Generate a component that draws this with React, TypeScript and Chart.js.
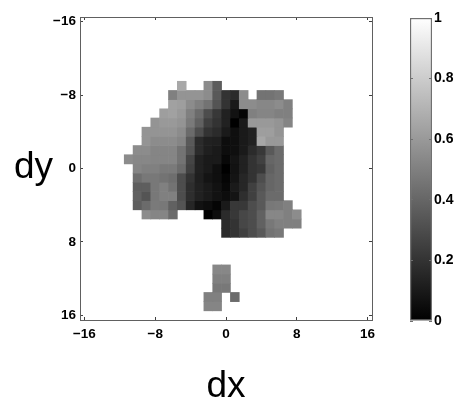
import React, { useEffect, useRef } from "react";
import { Chart, registerables } from "chart.js";

Chart.register(...registerables);

const dxLabels = ["-16","-15","-14","-13","-12","-11","-10","-9","-8","-7","-6","-5","-4","-3","-2","-1","0","1","2","3","4","5","6","7","8","9","10","11","12","13","14","15","16"];
const axisTicks = [-16, -8, 0, 8, 16];
const barTicks = [0, 0.2, 0.4, 0.6, 0.8, 1];

// One row of cells per dy level: dy, the dx of the first cell, and the cell values
const dyLevels = [-9, -8, -7, -6, -5, -4, -3, -2, -1, 0, 1, 2, 3, 4, 5, 6, 7, 11, 12, 13, 14, 15];
const firstDx = [-5, -6, -6, -7, -8, -9, -9, -10, -11, -10, -10, -10, -10, -10, -9, 0, 0, -1, -1, -1, -2, -2];
const cellRows: (number | null)[][] = [
  [0.66, null, null, 0.55, 0.36],
  [0.5, 0.58, 0.58, 0.58, 0.55, 0.35, 0.2, 0.17, 0.55, null, 0.45, 0.45, 0.47],
  [0.63, 0.62, 0.55, 0.5, 0.45, 0.33, 0.2, 0.1, 0.55, 0.55, 0.53, 0.53, 0.55, 0.5],
  [0.62, 0.63, 0.6, 0.5, 0.42, 0.3, 0.22, 0.13, 0.07, 0.02, 0.5, 0.52, 0.52, 0.5, 0.5],
  [0.58, 0.6, 0.6, 0.58, 0.48, 0.38, 0.25, 0.2, 0.13, 0.0, 0.1, 0.6, 0.6, 0.6, 0.58, 0.52],
  [0.58, 0.58, 0.58, 0.58, 0.55, 0.42, 0.3, 0.2, 0.17, 0.1, 0.06, 0.1, 0.13, 0.62, 0.62, 0.58],
  [0.58, 0.55, 0.55, 0.55, 0.52, 0.35, 0.17, 0.13, 0.12, 0.05, 0.06, 0.1, 0.13, 0.65, 0.6, 0.6],
  [0.55, 0.55, 0.52, 0.52, 0.52, 0.45, 0.33, 0.17, 0.12, 0.1, 0.05, 0.06, 0.1, 0.17, 0.22, 0.35, 0.42],
  [0.55, 0.53, 0.53, 0.52, 0.52, 0.52, 0.45, 0.27, 0.13, 0.1, 0.1, 0.03, 0.08, 0.13, 0.2, 0.25, 0.4, 0.42],
  [0.52, 0.5, 0.5, 0.48, 0.48, 0.42, 0.25, 0.13, 0.1, 0.06, 0.0, 0.07, 0.13, 0.2, 0.22, 0.38, 0.42],
  [0.43, 0.47, 0.47, 0.45, 0.43, 0.3, 0.2, 0.12, 0.08, 0.06, 0.02, 0.08, 0.15, 0.2, 0.3, 0.4, 0.42],
  [0.37, 0.37, 0.47, 0.5, 0.45, 0.3, 0.18, 0.13, 0.1, 0.07, 0.03, 0.1, 0.15, 0.25, 0.33, 0.4, 0.42],
  [0.38, 0.33, 0.47, 0.5, 0.5, 0.3, 0.18, 0.13, 0.1, 0.07, 0.05, 0.08, 0.18, 0.25, 0.35, 0.42, 0.42],
  [0.37, 0.42, 0.48, 0.47, 0.38, 0.33, 0.15, 0.07, 0.05, 0.02, 0.1, 0.22, 0.22, 0.3, 0.35, 0.47, 0.48, 0.5],
  [0.55, 0.52, 0.52, 0.42, null, null, null, 0.0, 0.05, 0.17, 0.22, 0.28, 0.3, 0.38, 0.53, 0.53, 0.5, 0.55],
  [0.17, 0.2, 0.28, 0.3, 0.38, 0.47, 0.5, 0.5, 0.5],
  [0.17, 0.2, 0.25, 0.3, 0.35, 0.45, 0.47],
  [0.53, 0.53],
  [0.5, 0.5],
  [0.47, 0.47],
  [0.5, 0.5, null, 0.42],
  [0.52, 0.52],
];

const gray = (v: number) => {
  const g = Math.round(v * 255);
  return `rgb(${g},${g},${g})`;
};
const tickText = (v: number | string) => String(v).replace("-", "\u2212");
const FONT = "'Liberation Sans', Arial, sans-serif";
const AXIS = "#606060";

function cellDatasets() {
  return dyLevels.map((dy, r) => {
    const data: ([number, number] | null)[] = dxLabels.map(() => null);
    const colors: string[] = dxLabels.map(() => "rgba(0,0,0,0)");
    cellRows[r].forEach((v, i) => {
      if (v === null) return;
      const idx = dxLabels.indexOf(String(firstDx[r] + i));
      data[idx] = [dy - 0.5, dy + 0.5];
      colors[idx] = gray(v);
    });
    return {
      label: `dy ${dy}`,
      data,
      backgroundColor: colors,
      borderWidth: 0,
      barPercentage: 1,
      categoryPercentage: 1,
      grouped: false,
      xAxisID: "x",
      yAxisID: "y",
    };
  });
}

const tickFont = { family: FONT, size: 13.5, weight: "bold" as const };

export default function App() {
  const mainRef = useRef<HTMLCanvasElement>(null);
  const barRef = useRef<HTMLCanvasElement>(null);

  useEffect(() => {
    const keepX = (s: any) => {
      s.ticks = s.ticks.filter((t: any) => axisTicks.includes(Number(dxLabels[t.value])));
    };
    const setY = (s: any) => {
      s.ticks = axisTicks.map((value) => ({ value }));
    };
    const grid = { drawOnChartArea: false, tickLength: -3, color: "#404040", offset: false };
    const border = { color: AXIS, width: 1 };

    const dyTitle = {
      id: "dyTitle",
      afterDraw(chart: any) {
        const { ctx } = chart;
        ctx.save();
        ctx.font = `37px ${FONT}`;
        ctx.fillStyle = "#000";
        ctx.textAlign = "left";
        ctx.textBaseline = "alphabetic";
        ctx.fillText("dy", 14, 178);
        ctx.restore();
      },
    };

    const main = new Chart(mainRef.current!, {
      type: "bar",
      data: { labels: dxLabels, datasets: cellDatasets() as any },
      plugins: [dyTitle],
      options: {
        animation: false,
        responsive: false,
        layout: { padding: { left: 0, top: 17, right: 84, bottom: 0 } },
        plugins: { legend: { display: false }, tooltip: { enabled: false } },
        scales: {
          x: {
            type: "category",
            position: "bottom",
            offset: true,
            grid,
            border,
            afterBuildTicks: keepX,
            afterFit: (s: any) => { s.height = 85; },
            ticks: {
              autoSkip: false,
              maxRotation: 0,
              padding: 9,
              color: "#000",
              font: tickFont,
              callback(this: any, v: any) { return tickText(this.getLabelForValue(v)); },
            },
            title: {
              display: true,
              text: "dx",
              color: "#000",
              font: { family: FONT, size: 37 },
              padding: { top: 0, bottom: -4 },
            },
          },
          x2: {
            type: "category",
            position: "top",
            offset: true,
            grid,
            border,
            afterBuildTicks: keepX,
            afterFit: (s: any) => { s.height = 0; },
            ticks: { display: false, autoSkip: false },
          },
          y: {
            type: "linear",
            position: "left",
            reverse: true,
            min: -16.5,
            max: 16.5,
            grid,
            border,
            afterBuildTicks: setY,
            afterFit: (s: any) => { s.width = 80; },
            ticks: { padding: 7, color: "#000", font: tickFont, callback: (v: any) => tickText(v) },
          },
          y2: {
            type: "linear",
            position: "right",
            reverse: true,
            min: -16.5,
            max: 16.5,
            grid,
            border,
            afterBuildTicks: setY,
            afterFit: (s: any) => { s.width = 0; },
            ticks: { display: false },
          },
        },
      } as any,
    });

    const barCtx = barRef.current!.getContext("2d")!;
    const ramp = barCtx.createLinearGradient(0, 321, 0, 18);
    ramp.addColorStop(0, "#000");
    ramp.addColorStop(1, "#fff");

    const setBarTicks = (s: any) => {
      s.ticks = barTicks.map((value) => ({ value }));
    };
    const barGrid = { drawOnChartArea: false, tickLength: -3, color: "#707070", z: 1 };

    const bar = new Chart(barRef.current!, {
      type: "bar",
      data: {
        labels: ["scale"],
        datasets: [{
          data: [[0, 1]],
          backgroundColor: ramp,
          borderColor: "#707070",
          borderWidth: 1.5,
          borderSkipped: false,
          barPercentage: 1,
          categoryPercentage: 1,
        }] as any,
      },
      options: {
        animation: false,
        responsive: false,
        layout: { padding: { left: 410, top: 18, right: 0, bottom: 84 } },
        plugins: { legend: { display: false }, tooltip: { enabled: false } },
        scales: {
          x: { display: false, offset: true },
          y: {
            position: "right",
            min: 0,
            max: 1,
            grid: barGrid,
            border: { display: false },
            afterBuildTicks: setBarTicks,
            afterFit: (s: any) => { s.width = 24; },
            ticks: { padding: 5, color: "#000", font: { ...tickFont, size: 14 }, callback: (v: any) => String(v) },
          },
          y2: {
            position: "left",
            min: 0,
            max: 1,
            grid: barGrid,
            border: { display: false },
            afterBuildTicks: setBarTicks,
            afterFit: (s: any) => { s.width = 0; },
            ticks: { display: false },
          },
        },
      } as any,
    });

    return () => {
      main.destroy();
      bar.destroy();
    };
  }, []);

  return (
    <div style={{ position: "absolute", left: 0, top: 0, width: 456, height: 405, background: "#fff" }}>
      <canvas ref={mainRef} width={456} height={405} style={{ position: "absolute", left: 0, top: 0 }} />
      <canvas ref={barRef} width={456} height={405} style={{ position: "absolute", left: 0, top: 0 }} />
    </div>
  );
}
